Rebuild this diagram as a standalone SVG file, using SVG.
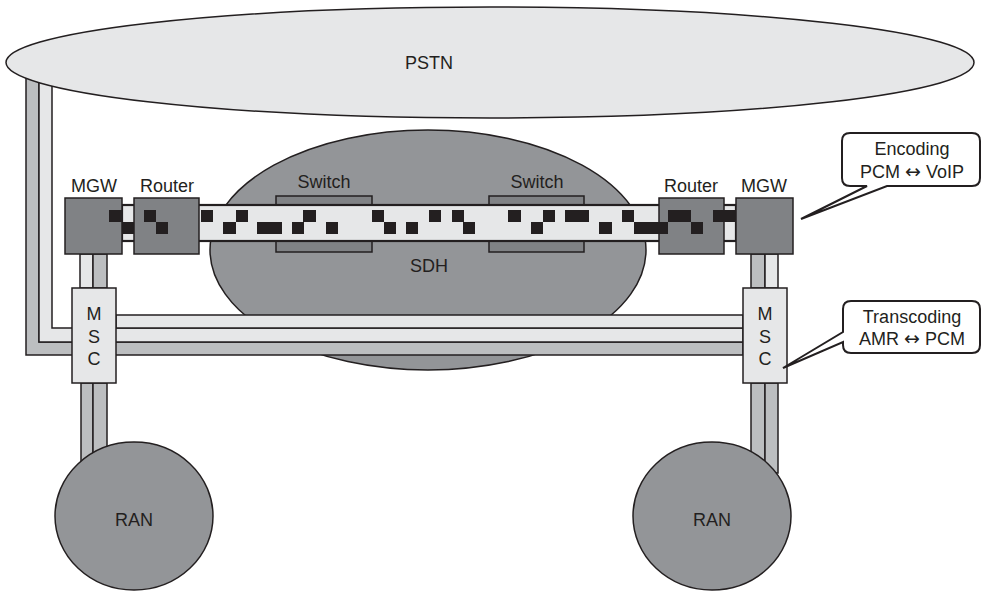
<svg xmlns="http://www.w3.org/2000/svg" width="981" height="593" viewBox="0 0 981 593">
<style>
.s{stroke:#231f20;stroke-width:1.5}
.lt{fill:#e6e7e8}
.gr{fill:#bcbec0}
.dk{fill:#939598}
.bx{fill:#808285}
.sq{fill:#231f20}
text{font-family:"Liberation Sans",Arial,sans-serif;font-size:18px;fill:#231f20;text-anchor:middle}
.ar{font-family:"DejaVu Sans",sans-serif;font-size:19px}
</style>
<rect width="981" height="593" fill="#fff"/>
<g id="sdh">
<ellipse cx="428" cy="250" rx="218" ry="120" class="dk s"/>
</g>
<g id="connectors">
<polygon points="26,60 39,60 39,342 743,342 743,355 26,355" class="gr s"/>
<polygon points="39,60 52,60 52,328 743,328 743,342 39,342" class="lt s"/>
<rect x="116" y="315" width="627" height="13" class="lt s"/>
<rect x="80" y="254" width="13" height="34" class="lt s"/>
<rect x="93" y="254" width="14" height="34" class="gr s"/>
<rect x="751" y="254" width="14" height="34" class="gr s"/>
<rect x="765" y="254" width="13" height="34" class="lt s"/>
<rect x="81" y="383" width="12" height="90" class="gr s"/>
<rect x="93" y="383" width="14" height="90" class="gr s"/>
<rect x="751" y="383" width="14" height="90" class="gr s"/>
<rect x="765" y="383" width="13" height="90" class="gr s"/>
</g>
<g id="pstn">
<ellipse cx="490" cy="62.5" rx="484" ry="55.5" class="lt s"/>
<text x="429" y="69">PSTN</text>
</g>
<g id="switch1">
<rect x="276" y="196" width="96" height="56" class="bx s"/>
<text x="324" y="188">Switch</text>
</g>
<g id="switch2">
<rect x="489" y="196" width="95" height="56" class="bx s"/>
<text x="537" y="188">Switch</text>
</g>
<g id="bar">
<rect x="122" y="205" width="614" height="36" class="lt" stroke="#231f20" stroke-width="2.2"/>
</g>
<text x="429" y="272">SDH</text>
<g id="mgw1">
<rect x="65" y="198" width="57" height="56" class="bx s"/>
<text x="94" y="192">MGW</text>
</g>
<g id="router1">
<rect x="134" y="198" width="65" height="56" class="bx s"/>
<text x="167" y="192">Router</text>
</g>
<g id="router2">
<rect x="659" y="198" width="65" height="56" class="bx s"/>
<text x="691" y="192">Router</text>
</g>
<g id="mgw2">
<rect x="736" y="198" width="57" height="56" class="bx s"/>
<text x="764" y="192">MGW</text>
</g>
<g id="packets" class="sq">
<rect x="109" y="210" width="13" height="12"/>
<rect x="144" y="210" width="12" height="12"/>
<rect x="201" y="210" width="12" height="12"/>
<rect x="236" y="210" width="12" height="12"/>
<rect x="303" y="210" width="13" height="12"/>
<rect x="372" y="210" width="12" height="12"/>
<rect x="429" y="210" width="12" height="12"/>
<rect x="452" y="210" width="12" height="12"/>
<rect x="508" y="210" width="13" height="12"/>
<rect x="543" y="210" width="12" height="12"/>
<rect x="565" y="210" width="24" height="12"/>
<rect x="622" y="210" width="12" height="12"/>
<rect x="668" y="210" width="23" height="12"/>
<rect x="713" y="210" width="23" height="12"/>
<rect x="122" y="222" width="12" height="12"/>
<rect x="156" y="222" width="12" height="12"/>
<rect x="223" y="222" width="13" height="12"/>
<rect x="257" y="222" width="25" height="12"/>
<rect x="292" y="222" width="12" height="12"/>
<rect x="326" y="222" width="12" height="12"/>
<rect x="384" y="222" width="12" height="12"/>
<rect x="406" y="222" width="12" height="12"/>
<rect x="463" y="222" width="12" height="12"/>
<rect x="531" y="222" width="12" height="12"/>
<rect x="599" y="222" width="13" height="12"/>
<rect x="634" y="222" width="34" height="12"/>
<rect x="691" y="222" width="12" height="12"/>
</g>
<g id="msc1">
<rect x="72" y="288" width="44" height="95" class="lt s"/>
<text x="94" y="320">M</text>
<text x="94" y="343">S</text>
<text x="94" y="365">C</text>
</g>
<g id="msc2">
<rect x="743" y="288" width="44" height="95" class="lt s"/>
<text x="765" y="320">M</text>
<text x="765" y="343">S</text>
<text x="765" y="365">C</text>
</g>
<g id="ran1">
<ellipse cx="134" cy="516" rx="79" ry="74" class="dk s"/>
<text x="134" y="526">RAN</text>
</g>
<g id="ran2">
<ellipse cx="712" cy="516" rx="79" ry="74" class="dk s"/>
<text x="712" y="526">RAN</text>
</g>
<g id="callout-encoding">
<path d="M850,133 H972 Q980,133 980,141 V178 Q980,186 972,186 H887 L801,219 L867,186 H850 Q842,186 842,178 V141 Q842,133 850,133 Z" fill="#fff" stroke="#231f20" stroke-width="2"/>
<text x="912" y="155">Encoding</text>
<text x="912" y="178">PCM <tspan class="ar">↔</tspan> VoIP</text>
</g>
<g id="callout-transcoding">
<path d="M851,301 H972 Q980,301 980,309 V345 Q980,353 972,353 H851 Q843,353 843,345 V342 L783,368 L843,332 V309 Q843,301 851,301 Z" fill="#fff" stroke="#231f20" stroke-width="2"/>
<text x="912" y="323">Transcoding</text>
<text x="912" y="345">AMR <tspan class="ar">↔</tspan> PCM</text>
</g>
</svg>
